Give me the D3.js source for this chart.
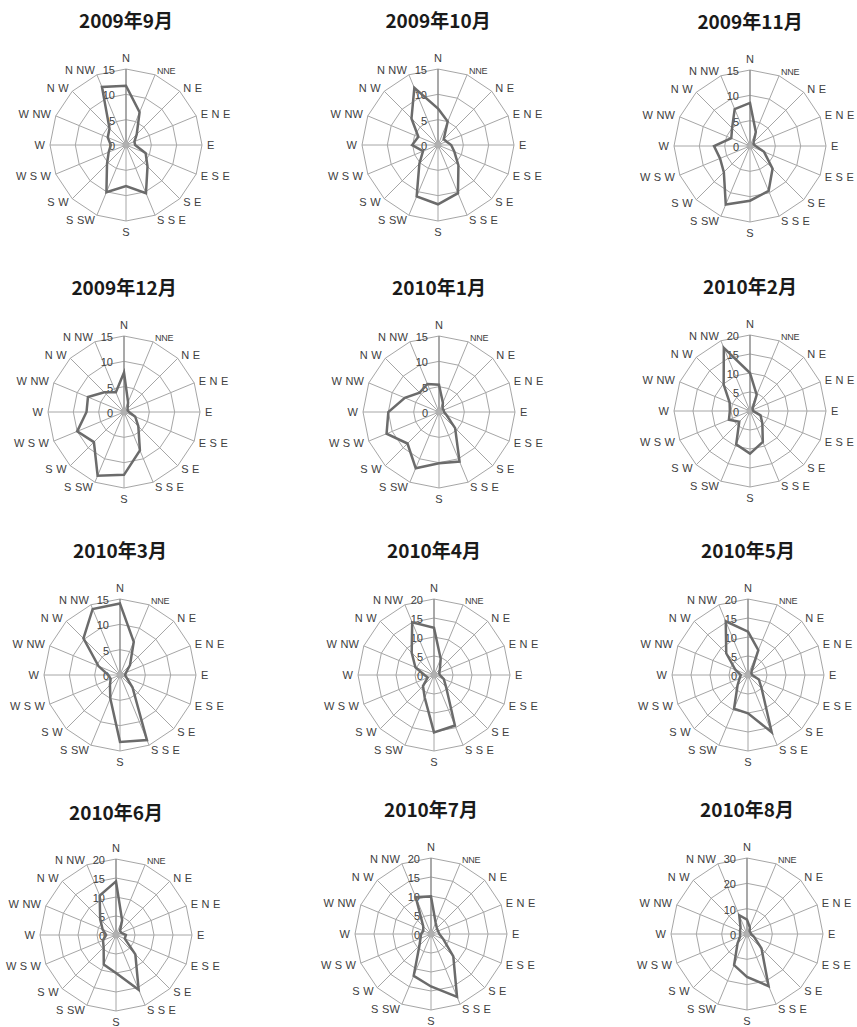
<!DOCTYPE html>
<html>
<head>
<meta charset="utf-8">
<script src="https://cdn.jsdelivr.net/npm/d3@7/dist/d3.min.js"></script>
<style>
body { margin: 0; background: #fff; }
</style>
</head>
<body>
<script>
// Monthly wind direction frequency radar charts

var directions = ['N','NNE','NE','ENE','E','ESE','SE','SSE','S','SSW','SW','WSW','W','WNW','NW','NNW'];
var dirLabels = ['N','NNE','N E','E N E','E','E S E','S E','S S E','S','S SW','S W','W S W','W','W NW','N W','N NW'];

var months = ['2009年9月','2009年10月','2009年11月','2009年12月','2010年1月','2010年2月',
	'2010年3月','2010年4月','2010年5月','2010年6月','2010年7月','2010年8月'];

var sep2009 = [11.7, 7.0, 3.0, 1.8, 1.8, 4.2, 6.0, 10.3, 8.1, 10.1, 5.3, 3.7, 3.0, 3.9, 4.6, 12.4];
var oct2009 = [7.2, 5.0, 1.6, 1.8, 2.6, 3.5, 5.7, 10.3, 11.7, 11.0, 5.2, 3.2, 5.1, 4.2, 7.4, 12.2];
var nov2009 = [8.5, 3.0, 1.0, 0.8, 1.1, 3.0, 6.3, 9.6, 10.8, 12.5, 7.3, 6.4, 7.1, 4.0, 5.0, 7.9];
var dec2009 = [7.8, 2.1, 1.0, 0.8, 1.0, 2.4, 4.0, 8.2, 12.4, 13.6, 8.4, 10.0, 7.4, 7.7, 5.5, 4.2];
var jan2010 = [5.4, 2.0, 1.0, 1.0, 1.0, 1.6, 4.5, 10.6, 10.1, 12.0, 8.8, 11.2, 10.0, 7.3, 5.4, 6.0];
var feb2010 = [10.0, 4.6, 1.0, 0.8, 0.9, 3.0, 4.6, 8.8, 11.2, 9.5, 4.0, 6.0, 5.3, 5.8, 9.8, 18.0];
var mar2010 = [14.1, 7.1, 2.8, 1.3, 1.0, 1.4, 3.5, 13.9, 13.2, 5.0, 2.8, 2.0, 2.3, 4.6, 10.2, 14.1];
var apr2010 = [12.4, 4.6, 2.2, 1.5, 1.5, 2.8, 4.5, 14.4, 15.1, 6.4, 4.1, 1.8, 2.5, 5.3, 8.3, 15.0];
var may2010 = [11.4, 7.1, 1.3, 1.0, 1.1, 3.1, 5.1, 16.3, 10.1, 9.6, 3.9, 2.4, 1.9, 3.6, 8.1, 15.3];
var jun2010 = [14.1, 4.2, 1.5, 1.5, 2.6, 2.5, 7.2, 15.6, 10.0, 8.4, 4.6, 3.7, 2.6, 3.8, 5.9, 11.2];
var jul2010 = [9.9, 3.2, 2.2, 2.0, 2.2, 3.5, 8.3, 17.9, 13.8, 11.9, 4.3, 3.0, 2.6, 2.2, 2.9, 10.5];
var aug2010 = [5.7, 2.9, 1.5, 1.5, 1.6, 3.0, 8.1, 22.3, 16.9, 13.3, 5.3, 3.0, 2.7, 3.0, 3.6, 8.0];

var axisMax = [15, 15, 15, 15, 15, 20, 15, 20, 20, 20, 20, 30];
var axisStep = [5, 5, 5, 5, 5, 5, 5, 5, 5, 5, 5, 10];

var series = [sep2009, oct2009, nov2009, dec2009, jan2010, feb2010,
	mar2010, apr2010, may2010, jun2010, jul2010, aug2010];

// chart centres (the source image is not perfectly regular)
var centres = [
	[126, 145], [438, 145], [750, 146],
	[124, 412], [439, 412], [750, 411],
	[120, 675], [434, 675], [748, 675],
	[116, 935], [431, 934], [747, 934]
];

var w = 857;
var h = 1027;
var radius = 76;
var gridColor = '#a6a6a6';
var textColor = '#404040';

var svg = d3.select('body')
	.append('svg')
	.attr('width', w)
	.attr('height', h);

var angle = d3.scaleLinear()
	.domain([0, directions.length])
	.range([0, 2 * Math.PI]);

months.forEach(function(month, k) {
	var data = series[k];
	var r = d3.scaleLinear()
		.domain([0, axisMax[k]])
		.range([0, radius]);
	var ticks = d3.range(0, axisMax[k] + 0.001, axisStep[k]);

	var g = svg.append('g')
		.attr('transform', 'translate(' + centres[k][0] + ',' + centres[k][1] + ')');

	// Title
	g.append('text')
		.text(month)
		.attr('x', 0)
		.attr('y', k === 9 ? -122 : -124)
		.attr('dy', '0.35em')
		.attr('text-anchor', 'middle')
		.attr('font-family', '"Noto Sans CJK SC", sans-serif')
		.attr('font-weight', 'bold')
		.attr('font-size', '19px')
		.attr('fill', '#1a1a1a');

	// Rings
	var ring = d3.lineRadial()
		.angle(function(d, i) { return angle(i); })
		.curve(d3.curveLinearClosed);

	g.selectAll('path.ring')
		.data(ticks.slice(1))
		.enter()
		.append('path')
		.attr('class', 'ring')
		.attr('d', function(t) {
			return ring.radius(r(t))(directions);
		})
		.attr('fill', 'none')
		.attr('stroke', gridColor)
		.attr('stroke-width', 1);

	// Spokes
	g.selectAll('line.spoke')
		.data(directions)
		.enter()
		.append('line')
		.attr('class', 'spoke')
		.attr('x1', 0)
		.attr('y1', 0)
		.attr('x2', function(d, i) { return r(axisMax[k]) * Math.sin(angle(i)); })
		.attr('y2', function(d, i) { return -r(axisMax[k]) * Math.cos(angle(i)); })
		.attr('stroke', function(d, i) { return i === 0 ? '#8c8c8c' : gridColor; })
		.attr('stroke-width', function(d, i) { return i === 0 ? 1.5 : 1; });

	g.append('circle')
		.attr('r', 3.5)
		.attr('fill', '#b0b0b0');

	// Direction labels
	g.selectAll('text.dir')
		.data(dirLabels)
		.enter()
		.append('text')
		.attr('class', 'dir')
		.text(function(d) { return d; })
		.attr('x', function(d, i) { return 81 * Math.sin(angle(i)); })
		.attr('y', function(d, i) {
			var y = -81 * Math.cos(angle(i));
			if (i === 0) return y - 2;
			if (i === 8) return y + 10;
			return y + 4;
		})
		.attr('text-anchor', function(d, i) {
			var s = Math.sin(angle(i));
			return Math.abs(s) < 0.01 ? 'middle' : (s > 0 ? 'start' : 'end');
		})
		.attr('font-family', '"Liberation Sans", Arial, sans-serif')
		.attr('font-size', function(d) { return d === 'NNE' ? '9px' : '11px'; })
		.attr('letter-spacing', function(d) { return d === 'NNE' ? '-0.3px' : '0.2px'; })
		.attr('fill', textColor);

	// Value axis labels
	g.selectAll('text.tick')
		.data(ticks)
		.enter()
		.append('text')
		.attr('class', 'tick')
		.text(function(d) { return d; })
		.attr('x', -11)
		.attr('y', function(d) { return -r(d) + 5; })
		.attr('text-anchor', 'end')
		.attr('font-family', '"Liberation Sans", Arial, sans-serif')
		.attr('font-size', '11px')
		.attr('fill', textColor);

	// Data line
	var line = d3.lineRadial()
		.angle(function(d, i) { return angle(i); })
		.radius(function(d) { return r(d); })
		.curve(d3.curveLinearClosed);

	g.append('path')
		.datum(data)
		.attr('d', line)
		.attr('fill', 'none')
		.attr('stroke', '#6b6b6b')
		.attr('stroke-width', 2.5)
		.attr('stroke-linejoin', 'miter');
});
</script>
</body>
</html>
